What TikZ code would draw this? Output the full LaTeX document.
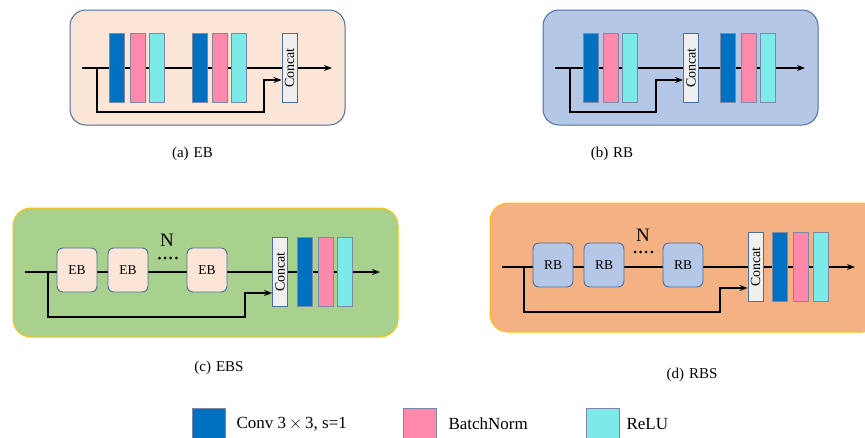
\documentclass[tikz,border=0pt]{standalone}
\usepackage{fontspec}
\setmainfont{Liberation Serif}
\usetikzlibrary{calc, arrows.meta}
\pgfdeclarelayer{panel}
\pgfdeclarelayer{wires}
\pgfsetlayers{panel,wires,main}

\definecolor{convblue}{HTML}{0070C0}
\definecolor{bnpink}{HTML}{FF89AB}
\definecolor{relucyan}{HTML}{7DEAEA}
\definecolor{catgray}{HTML}{EFEFEF}
\definecolor{edgeblue}{HTML}{4E6E9E}
\definecolor{edgegray}{HTML}{7C88A6}
\definecolor{peach}{HTML}{FBE5D6}
\definecolor{lblue}{HTML}{B4C7E7}
\definecolor{lgreen}{HTML}{A9D18E}
\definecolor{orng}{HTML}{F4B183}
\definecolor{gold}{HTML}{FFC000}

\tikzset{
  blk/.style={draw=edgegray, line width=0.9pt, minimum width=15, minimum height=69, inner sep=0pt},
  convblk/.style={blk, fill=convblue},
  bnblk/.style={blk, fill=bnpink},
  relublk/.style={blk, fill=relucyan},
  catblk/.style={draw=edgeblue, line width=0.9pt, fill=catgray, minimum width=69, minimum height=15,
    inner sep=0pt, rotate=90, font=\fontsize{14}{14}\selectfont},
  unitblk/.style={draw=edgeblue, line width=0.9pt, rounded corners=6, minimum width=40, minimum height=44,
    inner sep=0pt, font=\fontsize{13.5}{14}\selectfont},
  wire/.style={line width=1.3pt, draw=black},
  tip/.style={-{Stealth[length=8pt,width=6pt]}},
  panelbox/.style={line width=1pt, rounded corners=16},
  caption/.style={font=\fontsize{15}{18}\selectfont},
  legsq/.style={draw=edgegray, line width=0.9pt, minimum width=33, minimum height=32, inner sep=0pt},
  legtext/.style={anchor=west, font=\fontsize{17}{20}\selectfont},
  dot/.style={circle, fill=black, inner sep=0pt, minimum size=3}
}

\begin{document}
\begin{tikzpicture}[x=1pt, y=-1pt]
    \useasboundingbox (0,0) rectangle (865,437);
    \clip (0,0) rectangle (865,437);

    % (a) EB
    \begin{pgfonlayer}{panel}
        \draw[panelbox, draw=edgeblue, fill=peach] (70,10) rectangle (345,125);
    \end{pgfonlayer}
    \coordinate (inA) at (82,68);
    \coordinate (outA) at (332,68);
    \coordinate (brA) at (97,68);
    \coordinate (kA) at (264,80);
    \node[convblk] (convA1) at (116.5,68) {};
    \node[bnblk] (bnA1) at (137.5,68) {};
    \node[relublk] (reluA1) at (156.5,68) {};
    \node[convblk] (convA2) at (199.5,68) {};
    \node[bnblk] (bnA2) at (219.5,68) {};
    \node[relublk] (reluA2) at (239,68) {};
    \node[catblk] (catA) at (289.5,68) {Concat};
    \begin{pgfonlayer}{wires}
        \draw[wire] (inA) -- (convA1) -- (bnA1) -- (reluA1) -- (convA2) -- (bnA2) -- (reluA2) -- (catA);
        \draw[wire, tip] (catA) -- (outA);
        \draw[wire, tip] (brA) -- ++(0,44) -| (kA) -- (kA -| catA.north);
    \end{pgfonlayer}
    \node[caption] (capA) at (192.5,154) {(a)\hspace{5pt}EB};

    % (b) RB
    \begin{pgfonlayer}{panel}
        \draw[panelbox, draw=edgeblue, fill=lblue] (543,10) rectangle (818,125);
    \end{pgfonlayer}
    \coordinate (inB) at (555,68);
    \coordinate (outB) at (805,68);
    \coordinate (brB) at (570,68);
    \coordinate (kB) at (656,80);
    \node[convblk] (convB1) at (590.5,68) {};
    \node[bnblk] (bnB1) at (610.5,68) {};
    \node[relublk] (reluB1) at (629.5,68) {};
    \node[catblk] (catB) at (691,68) {Concat};
    \node[convblk] (convB2) at (727.5,68) {};
    \node[bnblk] (bnB2) at (748.5,68) {};
    \node[relublk] (reluB2) at (768,68) {};
    \begin{pgfonlayer}{wires}
        \draw[wire] (inB) -- (convB1) -- (bnB1) -- (reluB1) -- (catB) -- (convB2) -- (bnB2) -- (reluB2);
        \draw[wire, tip] (reluB2) -- (outB);
        \draw[wire, tip] (brB) -- ++(0,44) -| (kB) -- (kB -| catB.north);
    \end{pgfonlayer}
    \node[caption] (capB) at (612,154) {(b)\hspace{5pt}RB};

    % (c) EBS
    \begin{pgfonlayer}{panel}
        \draw[panelbox, rounded corners=18, draw=gold, fill=lgreen] (13,208) rectangle (398,337);
    \end{pgfonlayer}
    \coordinate (inC) at (25,272);
    \coordinate (outC) at (380,272);
    \coordinate (brC) at (48,272);
    \coordinate (kC) at (245,293);
    \node[unitblk, fill=peach] (ebC1) at (77,270) {EB};
    \node[unitblk, fill=peach] (ebC2) at (128,270) {EB};
    \node[unitblk, fill=peach] (ebC3) at (207,270) {EB};
    \node[font=\fontsize{19}{20}\selectfont] (nC) at (167,240) {N};
    \foreach \i in {0,...,3}
        \node[dot] (dotC\i) at (159.5+5.6*\i,258) {};
    \node[catblk] (catC) at (280,272) {Concat};
    \node[convblk] (convC) at (304.5,272) {};
    \node[bnblk] (bnC) at (325.5,272) {};
    \node[relublk] (reluC) at (344.5,272) {};
    \begin{pgfonlayer}{wires}
        \draw[wire] (inC) -- (ebC1.west |- inC) -- (ebC1.east |- inC) -- (ebC2.west |- inC);
        \draw[wire] (ebC2.east |- inC) -- (ebC3.west |- inC);
        \draw[wire] (ebC3.east |- inC) -- (catC) -- (convC) -- (bnC) -- (reluC);
        \draw[wire, tip] (reluC) -- (outC);
        \draw[wire, tip] (brC) -- ++(0,45) -| (kC) -- (kC -| catC.north);
    \end{pgfonlayer}
    \node[caption] (capC) at (219,368) {(c)\hspace{5pt}EBS};

    % (d) RBS
    \begin{pgfonlayer}{panel}
        \draw[panelbox, rounded corners=18, draw=gold, fill=orng] (490,203) rectangle (880,332);
    \end{pgfonlayer}
    \coordinate (inD) at (502,267);
    \coordinate (outD) at (855,267);
    \coordinate (brD) at (524,267);
    \coordinate (kD) at (720,288);
    \node[unitblk, fill=lblue] (rbD1) at (553,265) {RB};
    \node[unitblk, fill=lblue] (rbD2) at (604,265) {RB};
    \node[unitblk, fill=lblue] (rbD3) at (683,265) {RB};
    \node[font=\fontsize{19}{20}\selectfont] (nD) at (643,235) {N};
    \foreach \i in {0,...,3}
        \node[dot] (dotD\i) at (635+5.6*\i,252) {};
    \node[catblk] (catD) at (755.5,267) {Concat};
    \node[convblk] (convD) at (780,267) {};
    \node[bnblk] (bnD) at (801,267) {};
    \node[relublk] (reluD) at (820.5,267) {};
    \begin{pgfonlayer}{wires}
        \draw[wire] (inD) -- (rbD1.west |- inD) -- (rbD1.east |- inD) -- (rbD2.west |- inD);
        \draw[wire] (rbD2.east |- inD) -- (rbD3.west |- inD);
        \draw[wire] (rbD3.east |- inD) -- (catD) -- (convD) -- (bnD) -- (reluD);
        \draw[wire, tip] (reluD) -- (outD);
        \draw[wire, tip] (brD) -- ++(0,45) -| (kD) -- (kD -| catD.north);
    \end{pgfonlayer}
    \node[caption] (capD) at (692,375) {(d)\hspace{5pt}RBS};

    % legend
    \node[legsq, fill=convblue] (keyConv) at (208.5,424) {};
    \node[legtext] (txtConv) at (233,424) {Conv 3\,$\times$\,3, s=1};
    \node[legsq, fill=bnpink] (keyBn) at (419.5,424) {};
    \node[legtext] (txtBn) at (445,424) {BatchNorm};
    \node[legsq, fill=relucyan] (keyRelu) at (602.5,424) {};
    \node[legtext] (txtRelu) at (623,424) {ReLU};
\end{tikzpicture}
\end{document}
